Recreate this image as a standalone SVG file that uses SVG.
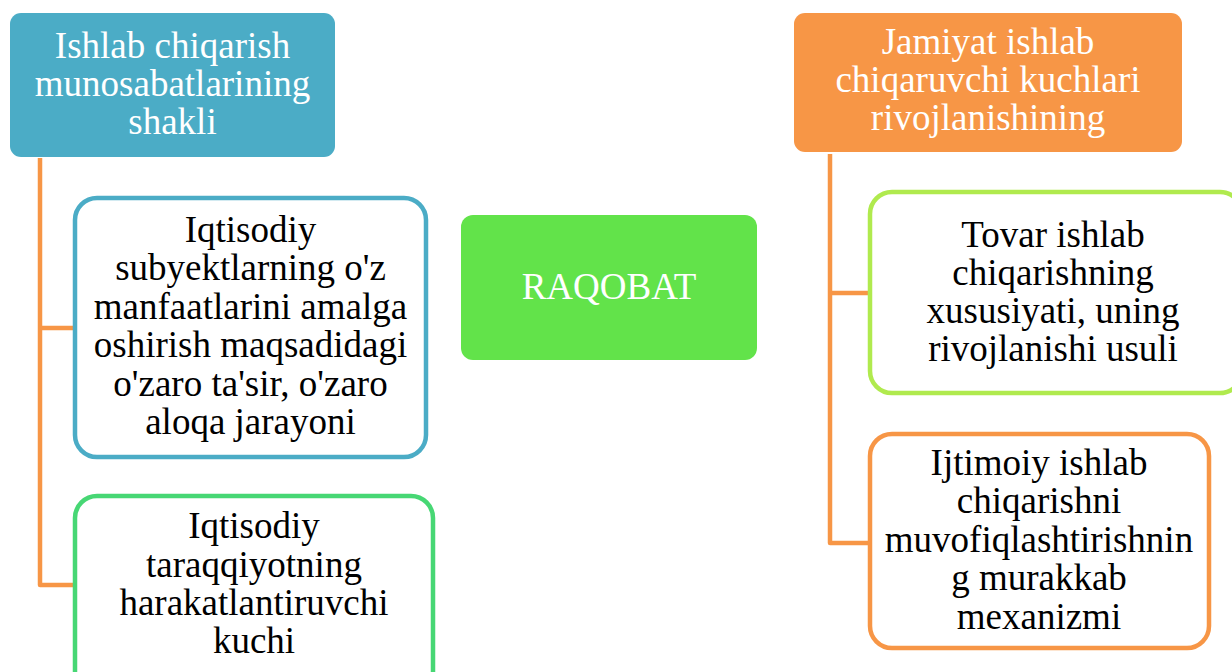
<svg xmlns="http://www.w3.org/2000/svg" width="1232" height="672" viewBox="0 0 1232 672" font-family="Liberation Serif">
<style>
text{font-family:'Liberation Serif','Times New Roman',serif;font-size:37px;text-anchor:middle}
.w{fill:#ffffff}
.k{fill:#000000}
.conn{fill:none;stroke:#F79646;stroke-width:4.5;stroke-linejoin:round}
.child{fill:#ffffff;stroke-width:4.5}
</style>
<rect width="1232" height="672" fill="#ffffff"/>
<g id="connectors">
<path class="conn" d="M40,158 V585 H75 M40,328 H75"/>
<path class="conn" d="M830,154 V543 H870 M830,293 H870"/>
</g>
<g id="title-left">
<rect x="10" y="13" width="325" height="144" rx="11" fill="#4BACC6"/>
<text class="w" x="172.5" y="58">Ishlab chiqarish</text>
<text class="w" x="172.5" y="96">munosabatlarining</text>
<text class="w" x="172.5" y="134">shakli</text>
</g>
<g id="node-left-1">
<rect class="child" x="75" y="198" width="351" height="259" rx="22" stroke="#4BACC6"/>
<text class="k" x="250.5" y="242">Iqtisodiy</text>
<text class="k" x="250.5" y="280">subyektlarning o'z</text>
<text class="k" x="250.5" y="319">manfaatlarini amalga</text>
<text class="k" x="250.5" y="357">oshirish maqsadidagi</text>
<text class="k" x="250.5" y="396">o'zaro ta'sir, o'zaro</text>
<text class="k" x="250.5" y="434">aloqa jarayoni</text>
</g>
<g id="node-left-2">
<rect class="child" x="75" y="496" width="358" height="200" rx="22" stroke="#47D774"/>
<text class="k" x="254" y="538">Iqtisodiy</text>
<text class="k" x="254" y="577">taraqqiyotning</text>
<text class="k" x="254" y="615">harakatlantiruvchi</text>
<text class="k" x="254" y="653">kuchi</text>
</g>
<g id="center">
<rect x="461" y="215" width="296" height="145" rx="12" fill="#62E34A"/>
<text class="w" x="609" y="299">RAQOBAT</text>
</g>
<g id="title-right">
<rect x="794" y="13" width="388" height="139" rx="11" fill="#F79646"/>
<text class="w" x="988" y="54">Jamiyat ishlab</text>
<text class="w" x="988" y="92">chiqaruvchi kuchlari</text>
<text class="w" x="988" y="130">rivojlanishining</text>
</g>
<g id="node-right-1">
<rect class="child" x="870" y="192" width="372" height="201" rx="22" stroke="#B0EA4E"/>
<text class="k" x="1053" y="247">Tovar ishlab</text>
<text class="k" x="1053" y="285">chiqarishning</text>
<text class="k" x="1053" y="323">xususiyati, uning</text>
<text class="k" x="1053" y="361">rivojlanishi usuli</text>
</g>
<g id="node-right-2">
<rect class="child" x="870" y="434" width="339" height="214" rx="22" stroke="#F79646"/>
<text class="k" x="1039" y="475">Ijtimoiy ishlab</text>
<text class="k" x="1039" y="513">chiqarishni</text>
<text class="k" x="1039" y="552">muvofiqlashtirishnin</text>
<text class="k" x="1039" y="590">g murakkab</text>
<text class="k" x="1039" y="629">mexanizmi</text>
</g>
</svg>
